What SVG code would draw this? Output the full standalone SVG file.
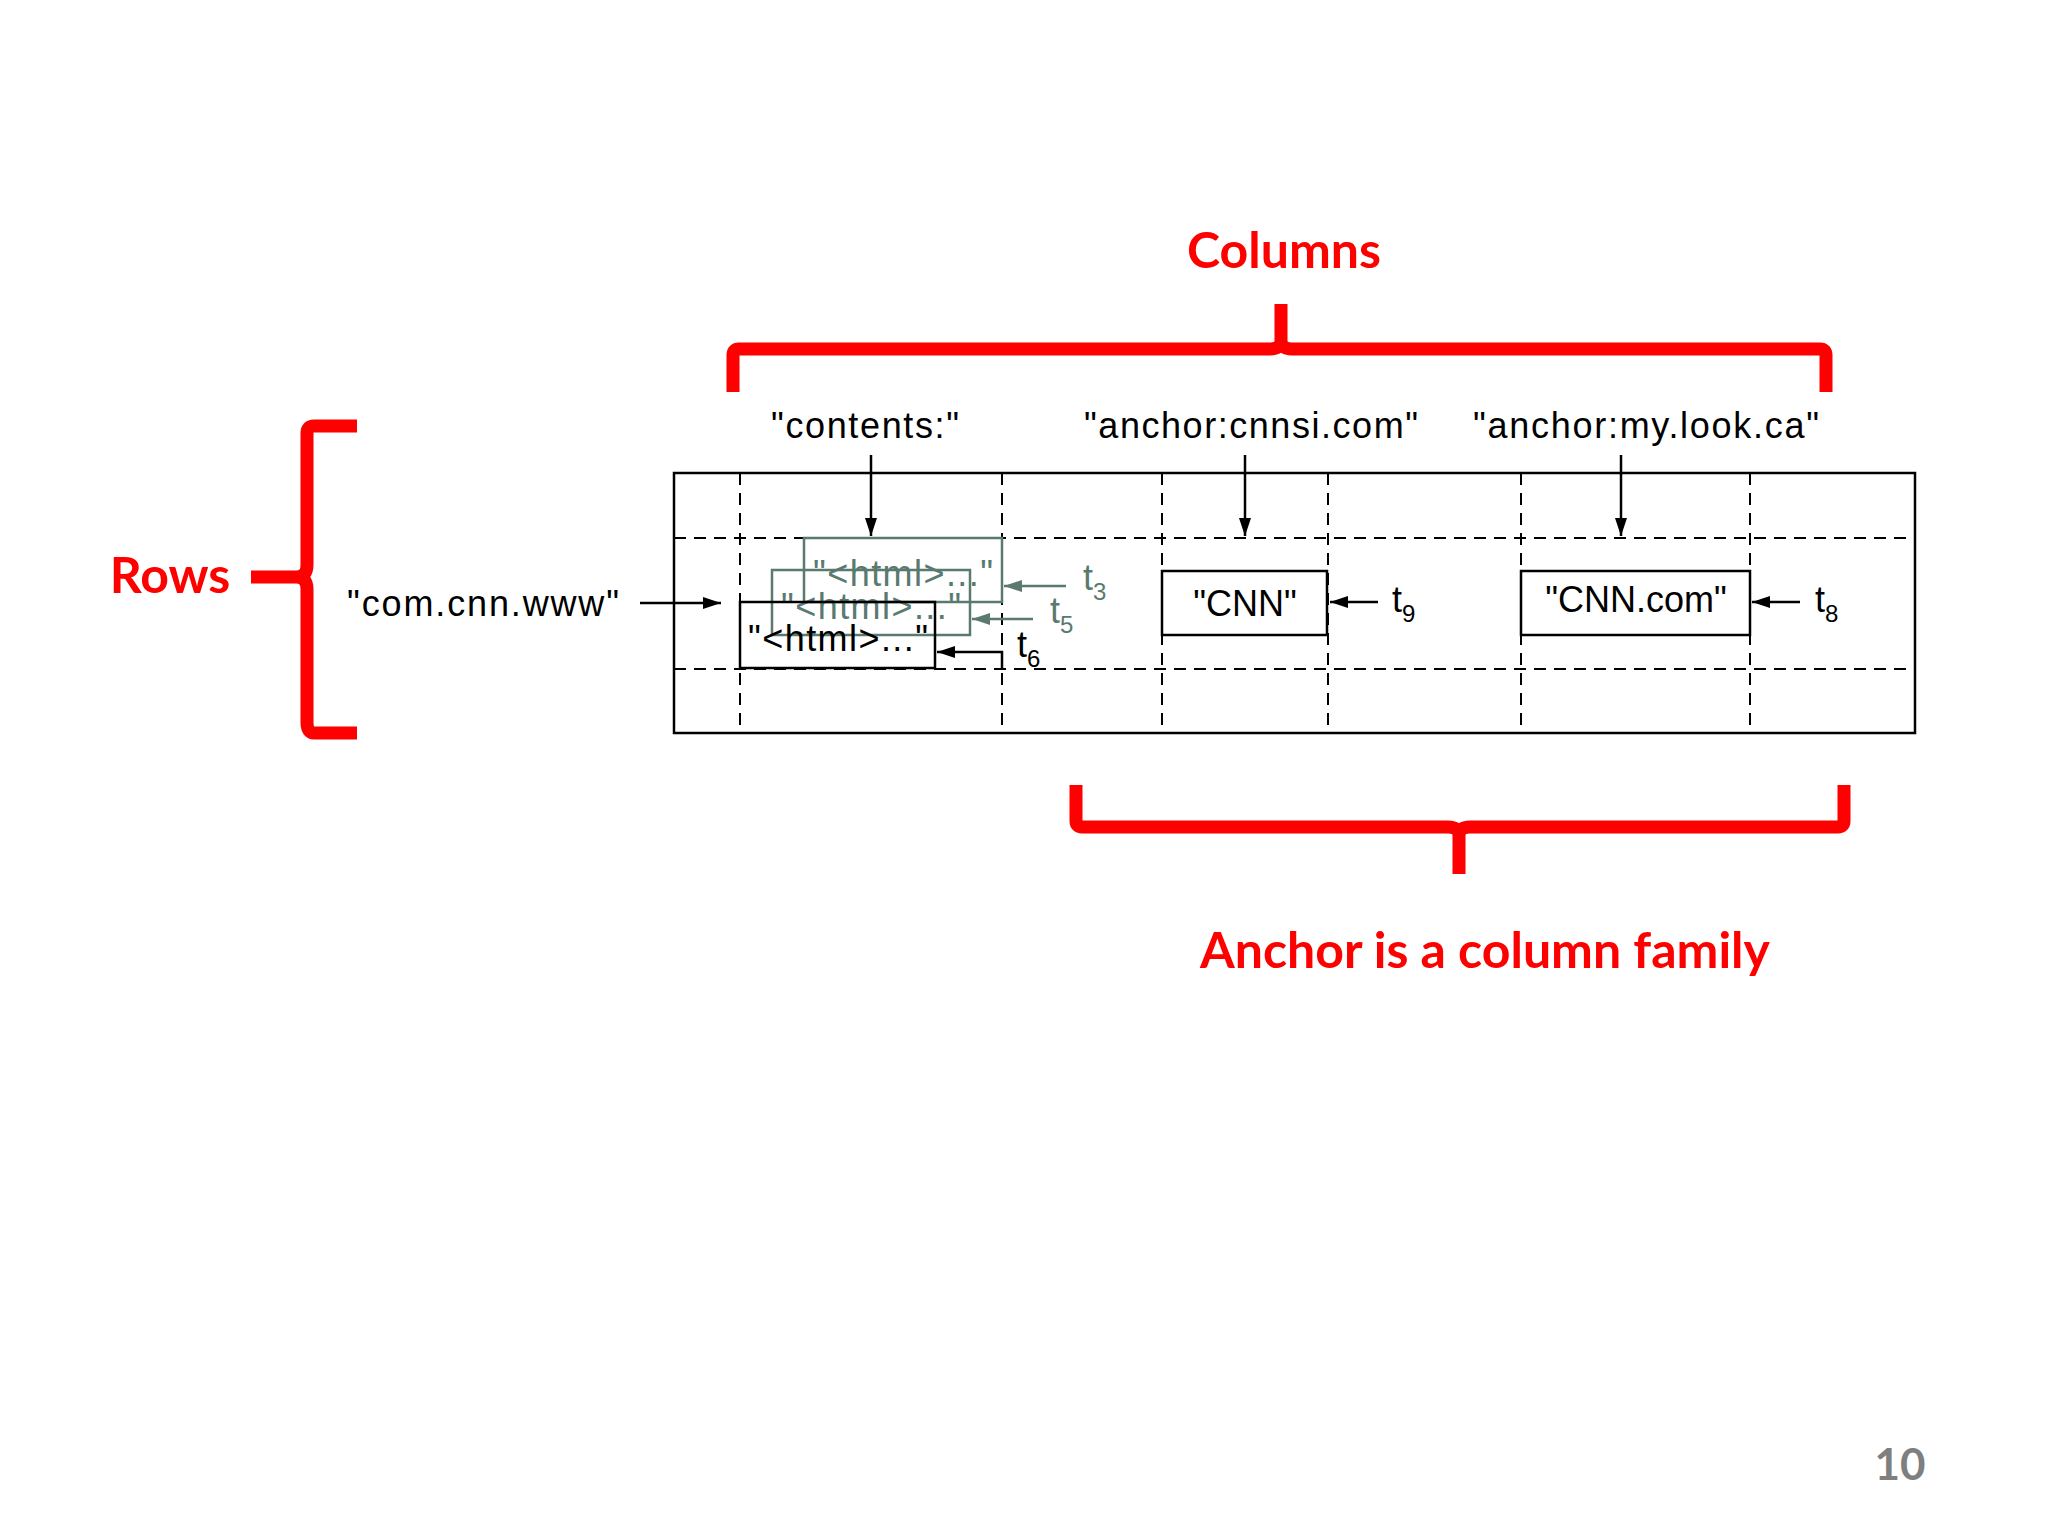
<svg xmlns="http://www.w3.org/2000/svg" width="2048" height="1536" viewBox="0 0 2048 1536">
<defs>
<marker id="ab" markerWidth="18" markerHeight="12" refX="18" refY="6" orient="auto" markerUnits="userSpaceOnUse" viewBox="0 0 18 12"><path d="M0,0L18,6L0,12z" fill="#000"/></marker>
<marker id="ag" markerWidth="18" markerHeight="12" refX="18" refY="6" orient="auto" markerUnits="userSpaceOnUse" viewBox="0 0 18 12"><path d="M0,0L18,6L0,12z" fill="#5a7a70"/></marker>
<style>
.t{font-family:"Liberation Sans",Arial,sans-serif;font-size:36px;fill:#000}
.g{fill:#5a7a70}
.d{stroke:#000;stroke-width:2;stroke-dasharray:12,8;fill:none}
.r{stroke:#f00;stroke-width:13;fill:none;stroke-linejoin:round}
.rt{font-family:Lato,"Open Sans",sans-serif;font-weight:bold;font-size:50px;fill:#f00}
.a{stroke:#000;stroke-width:2.5;fill:none}
</style>
</defs>
<rect width="2048" height="1536" fill="#fff"/>
<g id="table">
<rect x="674" y="473" width="1241" height="260" fill="none" stroke="#000" stroke-width="2.5"/>
<line class="d" x1="674" y1="538" x2="1915" y2="538"/>
<line class="d" x1="674" y1="669" x2="1915" y2="669"/>
<line class="d" x1="740" y1="473" x2="740" y2="733"/>
<line class="d" x1="1002" y1="473" x2="1002" y2="733"/>
<line class="d" x1="1162" y1="473" x2="1162" y2="733"/>
<line class="d" x1="1328" y1="473" x2="1328" y2="733"/>
<line class="d" x1="1521" y1="473" x2="1521" y2="733"/>
<line class="d" x1="1750" y1="473" x2="1750" y2="733"/>
</g>
<g id="labels">
<text class="t" x="865" y="438" text-anchor="middle" textLength="188">"contents:"</text>
<text class="t" x="1251" y="438" text-anchor="middle" textLength="334">"anchor:cnnsi.com"</text>
<text class="t" x="1646" y="438" text-anchor="middle" textLength="346">"anchor:my.look.ca"</text>
<text class="t" x="483" y="616" text-anchor="middle" textLength="272">"com.cnn.www"</text>
</g>
<g id="cell-contents">
<rect x="804" y="538" width="198" height="64" fill="none" stroke="#5a7a70" stroke-width="2.5"/>
<text class="t g" x="903" y="586" text-anchor="middle" textLength="180">"&lt;html&gt;..."</text>
<rect x="772" y="570" width="198" height="65" fill="none" stroke="#5a7a70" stroke-width="2.5"/>
<text class="t g" x="871" y="619" text-anchor="middle" textLength="180">"&lt;html&gt;..."</text>
<rect x="740" y="602" width="195" height="66" fill="none" stroke="#000" stroke-width="2.5"/>
<text class="t" x="838" y="651" text-anchor="middle" textLength="180">"&lt;html&gt;..."</text>
<text class="t g" x="1083" y="590" font-family="Liberation Serif" font-size="36">t<tspan font-size="24" dy="10">3</tspan></text>
<text class="t g" x="1050" y="623" font-family="Liberation Serif" font-size="36">t<tspan font-size="24" dy="10">5</tspan></text>
<text class="t" x="1017" y="657" font-family="Liberation Serif" font-size="36">t<tspan font-size="24" dy="10">6</tspan></text>
</g>
<g id="cell-cnn">
<rect x="1162" y="571" width="165" height="64" fill="none" stroke="#000" stroke-width="2.5"/>
<text class="t" x="1245" y="616" text-anchor="middle">"CNN"</text>
<text class="t" x="1392" y="612" font-family="Liberation Serif">t<tspan font-size="24" dy="10">9</tspan></text>
</g>
<g id="cell-cnncom">
<rect x="1521" y="571" width="229" height="64" fill="none" stroke="#000" stroke-width="2.5"/>
<text class="t" x="1636" y="612" text-anchor="middle">"CNN.com"</text>
<text class="t" x="1815" y="612" font-family="Liberation Serif">t<tspan font-size="24" dy="10">8</tspan></text>
</g>
<g id="connectors">
<line class="a" x1="871" y1="455" x2="871" y2="536" marker-end="url(#ab)"/>
<line class="a" x1="1245" y1="455" x2="1245" y2="536" marker-end="url(#ab)"/>
<line class="a" x1="1621" y1="455" x2="1621" y2="536" marker-end="url(#ab)"/>
<line class="a" x1="640" y1="603" x2="721" y2="603" marker-end="url(#ab)"/>
<line x1="1066" y1="586" x2="1004" y2="586" stroke="#5a7a70" stroke-width="2.5" marker-end="url(#ag)"/>
<line x1="1033" y1="619" x2="972" y2="619" stroke="#5a7a70" stroke-width="2.5" marker-end="url(#ag)"/>
<path class="a" d="M1002,668V652H937" marker-end="url(#ab)"/>
<line class="a" x1="1378" y1="602" x2="1330" y2="602" marker-end="url(#ab)"/>
<line class="a" x1="1800" y1="602" x2="1752" y2="602" marker-end="url(#ab)"/>
</g>
<g id="annotations">
<path class="r" d="M733,392V355Q733,349 739,349H1270Q1281,349 1281,340V304M1281,340Q1281,349 1292,349H1820Q1826,349 1826,355V392"/>
<text class="rt" x="1284" y="268" text-anchor="middle">Columns</text>
<path class="r" d="M357,426H314Q307,426 307,433V565Q307,577 296,577H251M296,577Q307,577 307,589V722Q307,733 314,733H357"/>
<text class="rt" x="170" y="593" text-anchor="middle">Rows</text>
<path class="r" d="M1076,785V821Q1076,827 1082,827H1448Q1459,827 1459,836V874M1459,836Q1459,827 1470,827H1838Q1844,827 1844,821V785"/>
<text class="rt" x="1485" y="968" text-anchor="middle">Anchor is a column family</text>
<text x="1900" y="1480" text-anchor="middle" font-family="Lato,'Open Sans',sans-serif" font-weight="bold" font-size="44" fill="#7f7f7f">10</text>
</g>
</svg>
